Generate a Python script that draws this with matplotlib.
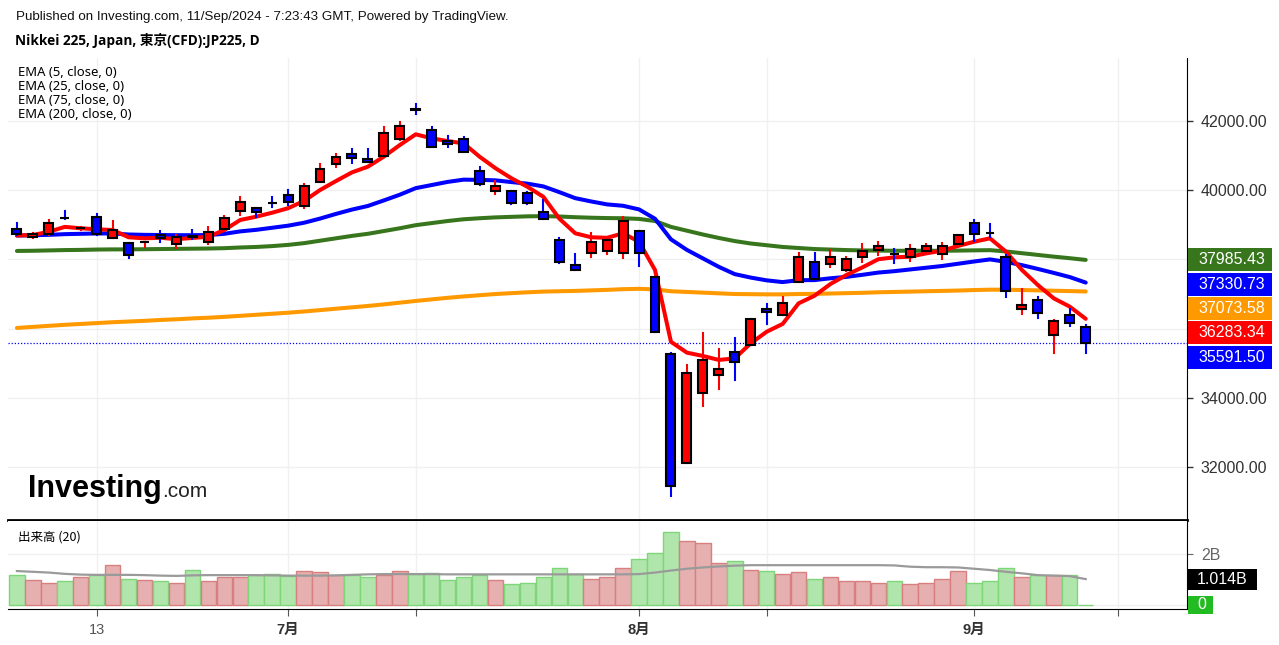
import matplotlib
matplotlib.use('Agg')
from matplotlib import pyplot as plt
from matplotlib import transforms
from matplotlib.patches import Rectangle

plt.rcParams['font.family'] = ['Liberation Sans', 'Noto Sans CJK JP']

# daily candles, 2024-06-06 .. 2024-09-11
opens = [38870, 38648, 38743, 39195, 38905, 39217, 38610, 38466, 38490, 38697,
         38437, 38660, 38512, 38870, 39390, 39477, 39635, 39861, 39552, 40246,
         40757, 41038, 40902, 40988, 41471, 42345, 41740, 41431, 41471, 40555,
         39986, 39986, 39911, 39379, 38561, 37830, 38177, 38252, 38177, 38821,
         37483, 35266, 32107, 34148, 34659, 35316, 35518, 36567, 36393, 37347,
         37917, 37859, 37685, 38078, 38272, 38155, 38078, 38243, 38156, 38437,
         39043, 38760, 38078, 36567, 36827, 35815, 36393, 36038]
highs = [39043, 38772, 39139, 39399, 38945, 39304, 39101, 38466, 38500, 38830,
         38697, 38850, 38945, 39263, 39812, 39500, 39812, 40006, 40171, 40749,
         41046, 41191, 41191, 41818, 41962, 42483, 41818, 41566, 41529, 40662,
         40266, 39986, 39940, 39717, 38610, 38148, 38755, 38552, 39217, 38821,
         37483, 35304, 34948, 35882, 35411, 35720, 36269, 36711, 36922, 38177,
         38177, 38272, 38078, 38445, 38494, 38292, 38416, 38445, 38466, 38697,
         39139, 39023, 38127, 37145, 36922, 36249, 36558, 36104]
lows = [38705, 38627, 38705, 39168, 38850, 38720, 38610, 38032, 38367, 38512,
        38338, 38598, 38445, 38830, 39283, 39234, 39523, 39572, 39494, 40228,
        40662, 40795, 40806, 40968, 41451, 42194, 41240, 41257, 41096, 40150,
        39890, 39601, 39601, 39168, 37888, 37694, 38061, 38148, 38032, 37810,
        35911, 31171, 32107, 33772, 34246, 34515, 35518, 36125, 36393, 37347,
        37425, 37789, 37665, 37934, 38127, 37888, 37963, 38194, 38012, 38417,
        38541, 38656, 36922, 36414, 36298, 35287, 36084, 35287]
closes = [38725, 38734, 39061, 39185, 38912, 38726, 38850, 38127, 38497, 38610,
          38648, 38650, 38801, 39205, 39668, 39379, 39625, 39668, 40130, 40604,
          40951, 40939, 40806, 41644, 41864, 42330, 41240, 41327, 41113, 40171,
          40130, 39639, 39639, 39168, 37917, 37694, 38512, 38552, 39119, 38177,
          35911, 31451, 34709, 35093, 34833, 35044, 36269, 36471, 36731, 38078,
          37425, 38078, 38003, 38252, 38388, 38145, 38301, 38396, 38388, 38697,
          38734, 38750, 37087, 36691, 36442, 36220, 36171, 35591.5]

ema5 = [38690, 38705, 38800, 38940, 38900, 38870, 38850, 38640, 38610, 38625,
        38585, 38620, 38655, 38850, 39140, 39235, 39350, 39480, 39690, 40005,
        40265, 40515, 40680, 40970, 41305, 41615, 41500, 41420, 41355, 40970,
        40635, 40345, 40100, 39810, 39180, 38755, 38640, 38625, 38755, 38510,
        37695, 35620, 35305, 35210, 35095, 35140, 35575, 35910, 36135, 36730,
        36950, 37290, 37550, 37770, 38005, 38060, 38080, 38175, 38250, 38390,
        38510, 38610, 38225, 37695, 37260, 36875, 36635, 36283.34]
ema25 = [38690, 38700, 38710, 38730, 38740, 38750, 38750, 38720, 38710, 38705,
         38700, 38700, 38705, 38740, 38810, 38855, 38915, 38975, 39060, 39180,
         39315, 39440, 39545, 39705, 39870, 40060, 40150, 40240, 40305, 40300,
         40285, 40235, 40190, 40110, 39945, 39770, 39675, 39590, 39550, 39445,
         39175, 38580, 38275, 38030, 37785, 37575, 37475, 37395, 37345, 37400,
         37402, 37455, 37495, 37555, 37620, 37660, 37710, 37760, 37810, 37875,
         37940, 38000, 37930, 37835, 37725, 37610, 37490, 37330.73]
ema75 = [38245, 38250, 38260, 38270, 38275, 38285, 38290, 38290, 38295, 38300,
         38305, 38310, 38315, 38325, 38345, 38360, 38385, 38420, 38470, 38540,
         38610, 38680, 38740, 38820, 38900, 38990, 39050, 39110, 39160, 39190,
         39215, 39230, 39245, 39250, 39240, 39220, 39205, 39195, 39190, 39170,
         39110, 38940, 38830, 38720, 38620, 38530, 38460, 38410, 38360, 38330,
         38300, 38285, 38270, 38260, 38255, 38250, 38250, 38250, 38250, 38255,
         38262, 38268, 38230, 38180, 38130, 38080, 38035, 37985.43]
ema200 = [36020, 36050, 36080, 36110, 36135, 36160, 36185, 36205, 36225, 36250,
          36270, 36295, 36315, 36340, 36370, 36400, 36430, 36460, 36495, 36535,
          36575, 36615, 36655, 36700, 36750, 36800, 36845, 36890, 36930, 36965,
          37000, 37025, 37050, 37070, 37080, 37090, 37105, 37120, 37140, 37150,
          37135, 37080, 37060, 37040, 37020, 37000, 36995, 36990, 36990, 37000,
          37005, 37015, 37025, 37035, 37050, 37060, 37070, 37080, 37090, 37100,
          37115, 37125, 37125, 37115, 37105, 37095, 37085, 37073.58]

# volume in billions, and its 20-day average
volumes = [1.16, 0.98, 0.86, 0.93, 1.10, 1.16, 1.57, 1.03, 0.98, 0.93,
           0.86, 1.39, 0.93, 1.10, 1.10, 1.16, 1.20, 1.14, 1.33, 1.28,
           1.16, 1.16, 1.10, 1.16, 1.33, 1.21, 1.26, 0.98, 1.10, 1.16,
           0.98, 0.81, 0.86, 1.10, 1.45, 1.21, 1.03, 1.10, 1.45, 1.79,
           2.04, 2.84, 2.49, 2.43, 1.63, 1.73, 1.39, 1.33, 1.21, 1.28,
           1.03, 1.10, 0.93, 0.93, 0.86, 0.93, 0.81, 0.86, 1.03, 1.33,
           0.86, 0.93, 1.45, 1.10, 1.16, 1.16, 1.16, 0.01]
vol_ma = [1.33, 1.30, 1.27, 1.22, 1.19, 1.18, 1.18, 1.18, 1.17, 1.15,
          1.14, 1.16, 1.17, 1.17, 1.17, 1.17, 1.16, 1.15, 1.15, 1.15,
          1.16, 1.18, 1.20, 1.21, 1.21, 1.21, 1.21, 1.20, 1.20, 1.20,
          1.20, 1.20, 1.20, 1.20, 1.20, 1.20, 1.20, 1.20, 1.20, 1.21,
          1.27, 1.35, 1.42, 1.47, 1.51, 1.54, 1.56, 1.56, 1.56, 1.56,
          1.56, 1.56, 1.56, 1.56, 1.56, 1.55, 1.50, 1.48, 1.48, 1.47,
          1.42, 1.37, 1.30, 1.24, 1.17, 1.15, 1.13, 1.014]

# x ticks (bar index) and their labels
tick_pos = [5, 17, 25, 39, 47, 60, 69]
tick_labels = ['13', '7月', '', '8月', '', '9月', '']
price_ticks = [32000, 34000, 36000, 38000, 40000, 42000]

W, H = 1279, 645
fig = plt.figure(figsize=(W / 100, H / 100), dpi=100)
ax = fig.add_axes([8 / W, 125 / H, 1179 / W, 462 / H])
axv = fig.add_axes([8 / W, 36 / H, 1179 / W, 88 / H], sharex=ax)

xs = list(range(len(closes)))
ax.set_xlim(-0.56, 73.35)
ax.set_ylim(30469, 43821)
axv.set_ylim(-0.157, 3.29)

for a in (ax, axv):
    for t in tick_pos:
        a.axvline(t, color='#f0f0f0', lw=1, zorder=0)
    a.spines['top'].set_visible(False)
    a.spines['left'].set_visible(False)
    a.yaxis.tick_right()
for p in price_ticks:
    ax.axhline(p, color='#f0f0f0', lw=1, zorder=0)
axv.axhline(2, color='#f0f0f0', lw=1, zorder=0)
axv.axhline(0, color='#f0f0f0', lw=1, zorder=0)

ax.spines['bottom'].set_linewidth(2)
ax.tick_params(axis='x', bottom=False, labelbottom=False)

# EMA lines
ax.plot(xs, ema200, color='#ff9900', lw=2.9, zorder=2, solid_capstyle='round')
ax.plot(xs, ema75, color='#38761d', lw=2.9, zorder=2, solid_capstyle='round')
ax.plot(xs, ema25, color='#0000ff', lw=2.9, zorder=2, solid_capstyle='round')
ax.plot(xs, ema5, color='#ff0000', lw=2.9, zorder=2, solid_capstyle='round')

# candles (red = up, blue = down)
bw = 0.56
for i in xs:
    o, h, l, c = opens[i], highs[i], lows[i], closes[i]
    col = '#ff0000' if c >= o else '#0000ff'
    ax.plot([i, i], [l, h], color=col, lw=1.5, zorder=3)
    ax.add_patch(Rectangle((i - bw / 2, min(o, c)), bw, max(abs(c - o), 15),
                           facecolor=col, edgecolor='black', lw=1.5, zorder=4))

ax.axhline(closes[-1], color='#0000ff', lw=0.9, ls=(0, (1, 1.5)), zorder=1)

# 36000 / 38000 sit behind the value boxes, so leave them unlabeled
ax.set_yticks(price_ticks)
ax.set_yticklabels([f'{p:.2f}' if p not in (36000, 38000) else '' for p in price_ticks])
ax.tick_params(axis='y', length=4, width=1, colors='#333333', labelsize=11.5, pad=6)

# value boxes on the right axis, stacked so they don't overlap
upp = (43821 - 30469) / 462.0
boxes = [(ema75[-1], '#38761d'), (ema25[-1], '#0000ff'), (ema200[-1], '#ff9900'),
         (ema5[-1], '#ff0000'), (closes[-1], '#0000ff')]
boxes.sort(key=lambda b: -b[0])
trans = transforms.blended_transform_factory(ax.transAxes, ax.transData)
prev = None
for val, col in boxes:
    y = val if prev is None else min(val, prev - 24.3 * upp)
    prev = y
    ax.add_patch(Rectangle((1 + 1 / 1179, y - 11.5 * upp), 84 / 1179, 23 * upp,
                           transform=trans, facecolor=col, edgecolor='none',
                           clip_on=False, zorder=10))
    ax.text(1 + 11 / 1179, y, f'{val:.2f}', transform=trans, color='white',
            fontsize=11.5, va='center', ha='left', clip_on=False, zorder=11)

# volume panel
vcols = ['#e6b0b0' if closes[i] >= opens[i] else '#b0e6ac' for i in xs]
ecols = ['#d88080' if closes[i] >= opens[i] else '#7ed679' for i in xs]
axv.bar(xs, volumes, width=0.97, color=vcols, edgecolor=ecols, lw=1, zorder=2)
axv.plot(xs, vol_ma, color='#9a9a9a', lw=1.6, zorder=3)
axv.set_yticks([2])
axv.set_yticklabels(['2B'])
axv.tick_params(axis='y', length=4, colors='#666666', labelsize=11.5, pad=6)
vtrans = transforms.blended_transform_factory(axv.transAxes, axv.transData)
vupp = 3.447 / 88.0
axv.add_patch(Rectangle((1 + 1 / 1179, vol_ma[-1] - 10.5 * vupp), 69 / 1179, 21 * vupp,
                        transform=vtrans, facecolor='black', clip_on=False, zorder=10))
axv.text(1 + 10 / 1179, vol_ma[-1], f'{vol_ma[-1]:.3f}B', transform=vtrans,
         color='white', fontsize=11.5, va='center', clip_on=False, zorder=11)
axv.add_patch(Rectangle((1 + 1 / 1179, 0 - 9 * vupp), 25 / 1179, 18 * vupp,
                        transform=vtrans, facecolor='#22bb22', clip_on=False, zorder=10))
axv.text(1 + 10 / 1179, 0, '0', transform=vtrans, color='white',
         fontsize=11.5, va='center', clip_on=False, zorder=11)

axv.set_xticks(tick_pos)
axv.set_xticklabels(tick_labels)
axv.tick_params(axis='x', length=5, colors='#555555', labelsize=10.5, pad=5)
for lab in axv.get_xticklabels():
    if lab.get_text() != '13':
        lab.set_fontweight('bold')
        lab.set_color('#333333')

# header and legends
fig.text(16 / W, 1 - 17 / H, 'Published on Investing.com, 11/Sep/2024 - 7:23:43 GMT, Powered by TradingView.',
         fontsize=9.6, va='center', color='#111111')
fig.text(15 / W, 1 - 40 / H, 'Nikkei 225, Japan, 東京(CFD):JP225, D',
         family=['Open Sans', 'Noto Sans CJK JP'], fontweight='bold', fontsize=9.8, va='center')
for k, name in enumerate(['EMA (5, close, 0)', 'EMA (25, close, 0)',
                          'EMA (75, close, 0)', 'EMA (200, close, 0)']):
    fig.text(18 / W, 1 - (72 + 14 * k) / H, name, family=['Noto Sans'],
             fontsize=9.4, va='center')
fig.text(18 / W, 1 - 537 / H, '出来高 (20)', family=['Noto Sans CJK JP'], fontsize=9,
         va='center')

fig.text(28 / W, 1 - 497 / H, 'Investing', fontsize=22, fontweight='bold', va='baseline')
fig.text(162 / W, 1 - 497 / H, '.com', fontsize=15, va='baseline', color='#222222')

fig.savefig('out.png', dpi=100)
